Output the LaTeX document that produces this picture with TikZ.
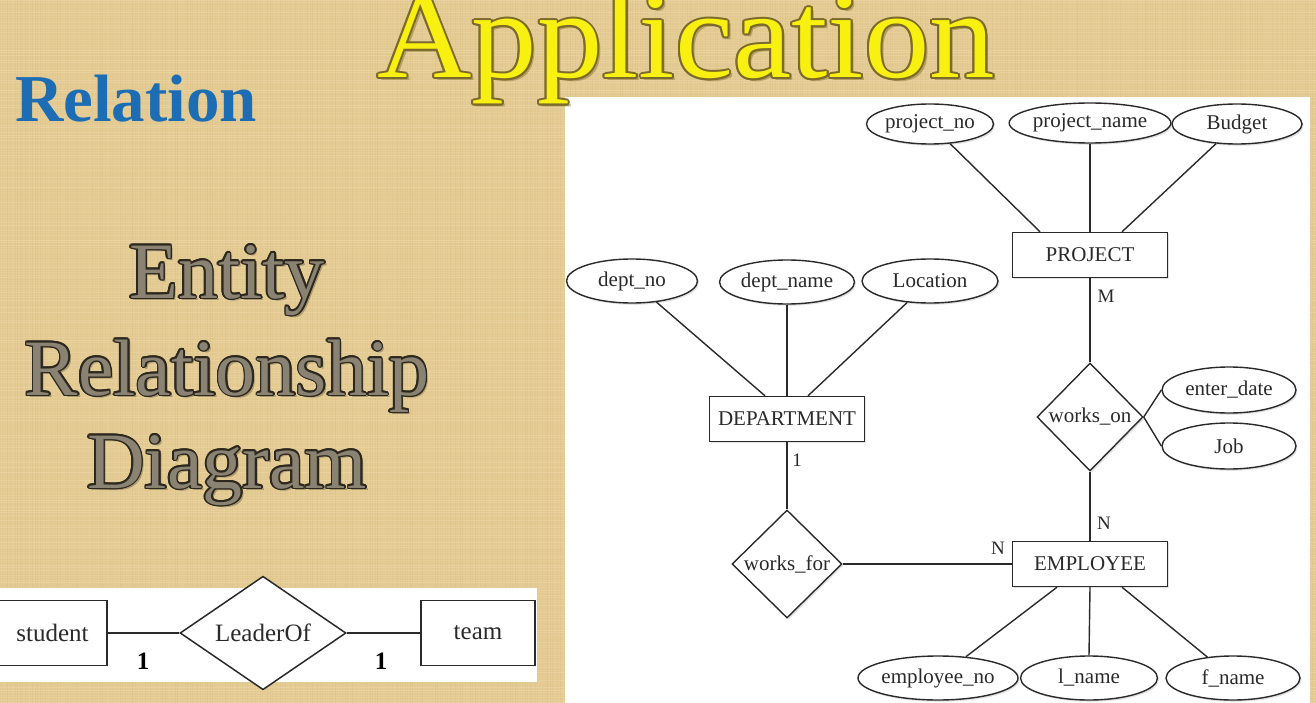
\documentclass[tikz,border=0pt]{standalone}
\usepackage{fontspec}
\setmainfont{Liberation Serif}
\usetikzlibrary{shapes.geometric,shadows,calc}

\definecolor{burlap}{HTML}{E4CB93}
\definecolor{burlapdark}{HTML}{C4A466}
\definecolor{burlaplight}{HTML}{F7E8C0}
\definecolor{titleyellow}{HTML}{F8F010}
\definecolor{titleedge}{HTML}{7C6A2A}
\definecolor{relblue}{HTML}{1D6DB4}
\definecolor{erfill}{HTML}{8A8272}
\definecolor{eredge}{HTML}{2C281E}
\definecolor{ink}{HTML}{2A2A2A}

\newcommand{\apptitlefont}{\fontsize{124}{124}\selectfont}
\newcommand{\relheadfont}{\fontsize{67}{67}\selectfont\bfseries}
\newcommand{\bigheadfont}{\fontsize{80}{80}\selectfont}
\newcommand{\erfont}{\fontsize{21}{21}\selectfont}
\newcommand{\cardfont}{\fontsize{19}{19}\selectfont}
\newcommand{\stripfont}{\fontsize{25}{25}\selectfont}

% word drawn with a thin coloured rim: copies in the rim colour round the fill
\newcommand{\haloword}[8]{%
  \foreach \ang in {0,30,...,330}
    \node[anchor=#2, inner sep=0pt, font=#4, text=#5] (#1-\ang) at ($#3+(\ang:#8)$) {#7};
  \node[anchor=#2, inner sep=0pt, font=#4, text=#6] (#1) at #3 {#7};
}

\tikzset{
  softshadow/.style={drop shadow={opacity=0.22, shadow xshift=1.5pt, shadow yshift=-1.8pt}},
  entitybox/.style={rectangle, draw=ink, line width=1.4pt, fill=white, text=ink,
    minimum width=155pt, minimum height=45pt, inner sep=0pt, font=\erfont, softshadow},
  attrib/.style={ellipse, draw=ink, line width=1.4pt, fill=white, text=ink,
    minimum height=42pt, inner sep=0pt, font=\erfont, softshadow},
  relship/.style={diamond, draw=ink, line width=1.4pt, fill=white, text=ink,
    inner sep=0pt, font=\erfont, softshadow},
  link/.style={draw=ink, line width=1.4pt},
  card/.style={font=\cardfont, inner sep=0pt, text=ink},
  stripbox/.style={rectangle, draw=ink, line width=1.5pt, fill=white, text=ink,
    inner sep=0pt, font=\stripfont},
  stripcard/.style={font=\stripfont\bfseries, inner sep=0pt, text=black},
}

\begin{document}
\begin{tikzpicture}[x=1pt,y=-1pt]
\useasboundingbox (0,0) rectangle (1316,703);

% burlap backdrop with a woven grain
\fill[burlap] (0,0) rectangle (1316,703);
\pgfmathsetseed{42}
\foreach \i in {0,2.5,...,1316} {
  \pgfmathsetmacro{\op}{0.02+0.14*rnd}
  \draw[burlapdark, line width=0.9pt, opacity=\op] (\i,0) -- (\i,703);
}
\foreach \j in {0,2.5,...,703} {
  \pgfmathsetmacro{\op}{0.04+0.25*rnd}
  \draw[burlaplight, line width=0.9pt, opacity=\op] (0,\j) -- (1316,\j);
}

% white panels
\fill[white] (565,97) rectangle (1310,703);
\fill[white] (0,588) rectangle (537,682);

% headings
\node[anchor=base, inner sep=0pt, font=\apptitlefont, text=titleedge, opacity=0.45]
  (appshadow) at (689,81) {\scalebox{1.055}[1]{Application}};
\haloword{apptitle}{base}{(686,78)}{\apptitlefont}{titleedge}{titleyellow}{\scalebox{1.055}[1]{Application}}{2.0}

\node[anchor=base west, inner sep=0pt, font=\relheadfont, text=relblue]
  (relhead) at (15,122) {Relation};

\foreach \w/\yy/\nm in {Entity/298/hentity, Relationship/395/hrel, Diagram/488/hdiag}
  \node[anchor=base, inner sep=0pt, font=\bigheadfont, text=black, opacity=0.25]
    (\nm-sh) at (229.5,\yy+2.5) {\w};
\haloword{hentity}{base}{(227,298)}{\bigheadfont}{eredge}{erfill}{Entity}{1.7}
\haloword{hrel}{base}{(227,395)}{\bigheadfont}{eredge}{erfill}{Relationship}{1.7}
\haloword{hdiag}{base}{(227,488)}{\bigheadfont}{eredge}{erfill}{Diagram}{1.7}

% student -- LeaderOf -- team
\node[stripbox, minimum width=109pt, minimum height=65pt] (student) at (52.5,633) {student};
\node[diamond, draw=ink, line width=1.5pt, fill=white, text=ink, inner sep=0pt,
  font=\stripfont, minimum width=166pt, minimum height=90pt] (leader) at (263,633) {LeaderOf};
\node[stripbox, minimum width=114pt, minimum height=65pt] (team) at (478,633) {team};
\draw[draw=ink, line width=1.5pt] (student.east) -- (leader.west);
\draw[draw=ink, line width=1.5pt] (leader.east) -- (team.west);
\node[stripcard] (cardstudent) at (143,661) {1};
\node[stripcard] (cardteam) at (381,661) {1};

% entities
\node[entitybox] (project) at (1090,255) {PROJECT};
\node[entitybox] (department) at (787,419) {DEPARTMENT};
\node[entitybox] (employee) at (1090,564) {EMPLOYEE};

% relationships
\node[relship, minimum width=106pt, minimum height=108pt] (workson) at (1090,417) {works\_on};
\node[relship, minimum width=110pt, minimum height=108pt] (worksfor) at (787,564) {works\_for};

% attributes
\node[attrib, minimum width=118pt, minimum height=40pt] (pno) at (930,124) {project\_no};
\node[attrib, minimum width=130pt, minimum height=40pt] (pname) at (1090,123) {project\_name};
\node[attrib, minimum width=130pt, minimum height=40pt] (budget) at (1237,124) {Budget};
\node[attrib, minimum width=131pt, minimum height=44pt] (dno) at (632,281) {dept\_no};
\node[attrib, minimum width=135pt, minimum height=44pt] (dname) at (787,282) {dept\_name};
\node[attrib, minimum width=136pt, minimum height=44pt] (loc) at (930,281) {Location};
\node[attrib, minimum width=134pt, minimum height=46pt] (edate) at (1229,390) {enter\_date};
\node[attrib, minimum width=134pt, minimum height=46pt] (job) at (1229,446) {Job};
\node[attrib, minimum width=126pt, minimum height=44pt] (eno) at (938,678) {employee\_no};
\node[attrib, minimum width=137pt, minimum height=44pt] (lname) at (1089,678) {l\_name};
\node[attrib, minimum width=134pt, minimum height=44pt] (fname) at (1233,678) {f\_name};

% attribute links
\draw[link] (pno) -- ([xshift=-50pt]project.north);
\draw[link] (pname.south) -- (project.north);
\draw[link] (budget) -- ([xshift=32pt]project.north);
\draw[link] (dno) -- ([xshift=-22pt]department.north);
\draw[link] (dname.south) -- (department.north);
\draw[link] (loc) -- ([xshift=21pt]department.north);
\draw[link] (workson.east) -- (edate.west);
\draw[link] (workson.east) -- (job.west);
\draw[link] ([xshift=-33pt]employee.south) -- (eno);
\draw[link] (employee.south) -- (lname.north);
\draw[link] ([xshift=32pt]employee.south) -- (fname);

% relationship links and cardinalities
\draw[link] (project.south) -- (workson.north);
\draw[link] (workson.south) -- (employee.north);
\draw[link] (department.south) -- (worksfor.north);
\draw[link] (worksfor.east) -- (employee.west);
\node[card] (cardM) at (1106,296) {M};
\node[card] (cardNtop) at (1104,523) {N};
\node[card] (cardNleft) at (998,548) {N};
\node[card] (cardone) at (797,460) {1};

\end{tikzpicture}
\end{document}
